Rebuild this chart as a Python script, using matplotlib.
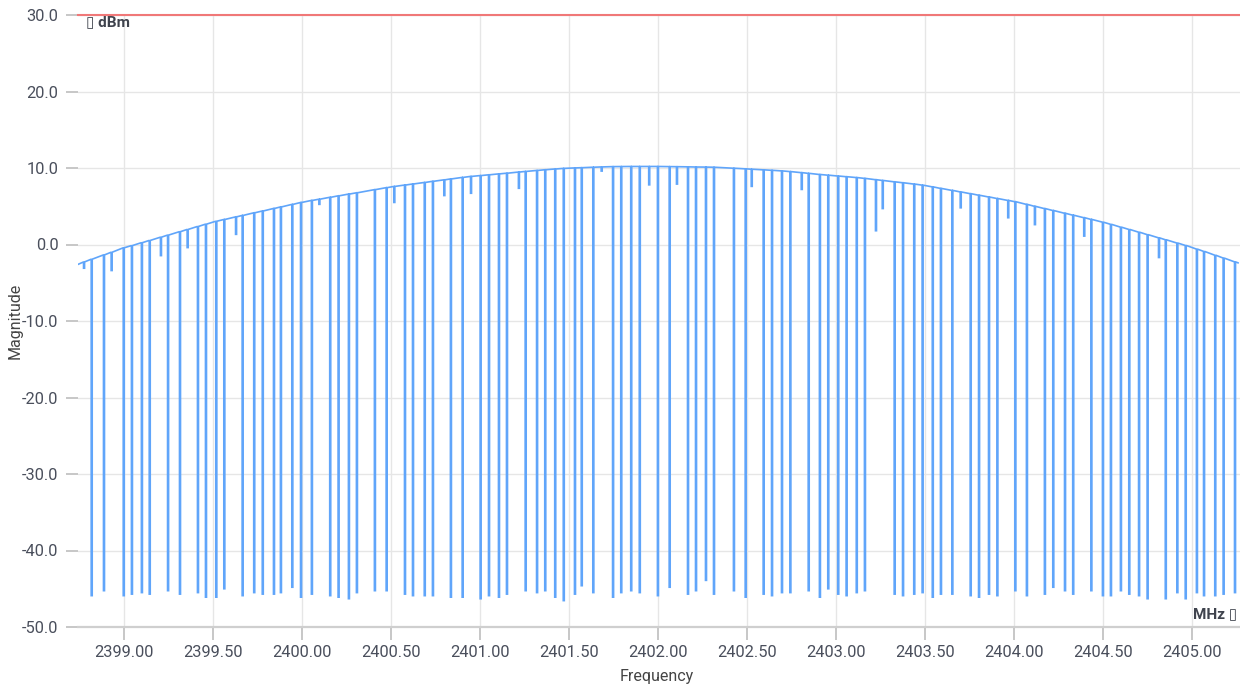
import matplotlib
matplotlib.use("Agg")
import matplotlib.pyplot as plt
from matplotlib.ticker import FixedLocator, FuncFormatter

plt.rcParams["font.family"] = ["Roboto", "DejaVu Sans"]

# Spectrum trace: level at the ends and, for every notch, its centre
# frequency (MHz), the carrier level just around it and the notch floor (dBm).
trace_start = (2398.740, -2.60)
trace_end = (2405.257, -2.40)

notch_freq = [
    2398.774, 2398.817, 2398.886, 2398.929, 2398.997, 2399.043, 2399.099, 2399.143,
    2399.206, 2399.246, 2399.313, 2399.356, 2399.414, 2399.459, 2399.517, 2399.562,
    2399.628, 2399.665, 2399.730, 2399.778, 2399.841, 2399.880, 2399.944, 2399.993,
    2400.054, 2400.096, 2400.157, 2400.204, 2400.262, 2400.307, 2400.408, 2400.474,
    2400.517, 2400.577, 2400.622, 2400.688, 2400.734, 2400.798, 2400.835, 2400.901,
    2400.948, 2401.002, 2401.049, 2401.105, 2401.150, 2401.217, 2401.255, 2401.319,
    2401.365, 2401.421, 2401.469, 2401.532, 2401.570, 2401.635, 2401.682, 2401.746,
    2401.792, 2401.848, 2401.896, 2401.949, 2401.998, 2402.064, 2402.105, 2402.167,
    2402.212, 2402.268, 2402.313, 2402.425, 2402.491, 2402.525, 2402.592, 2402.639,
    2402.695, 2402.742, 2402.806, 2402.845, 2402.908, 2402.955, 2403.011, 2403.058,
    2403.115, 2403.161, 2403.223, 2403.261, 2403.328, 2403.375, 2403.438, 2403.485,
    2403.542, 2403.588, 2403.652, 2403.699, 2403.755, 2403.802, 2403.858, 2403.905,
    2403.966, 2404.006, 2404.071, 2404.116, 2404.172, 2404.219, 2404.285, 2404.331,
    2404.393, 2404.433, 2404.498, 2404.543, 2404.599, 2404.646, 2404.701, 2404.749,
    2404.813, 2404.851, 2404.916, 2404.963, 2405.026, 2405.066, 2405.129, 2405.176,
    2405.240,
]

notch_top = [
    -2.28, -1.92, -1.36, -1.01, -0.43, -0.14, 0.24, 0.53,
    0.96, 1.23, 1.68, 1.97, 2.36, 2.66, 3.04, 3.27,
    3.61, 3.80, 4.14, 4.38, 4.71, 4.91, 5.24, 5.49,
    5.76, 5.92, 6.17, 6.36, 6.59, 6.76, 7.17, 7.43,
    7.59, 7.77, 7.91, 8.11, 8.26, 8.45, 8.57, 8.77,
    8.90, 9.01, 9.11, 9.23, 9.32, 9.47, 9.55, 9.68,
    9.77, 9.87, 9.95, 10.01, 10.04, 10.10, 10.14, 10.18,
    10.19, 10.20, 10.20, 10.20, 10.20, 10.18, 10.17, 10.15,
    10.13, 10.12, 10.10, 9.97, 9.89, 9.84, 9.76, 9.70,
    9.62, 9.53, 9.39, 9.30, 9.15, 9.06, 8.95, 8.86,
    8.75, 8.64, 8.47, 8.37, 8.19, 8.07, 7.90, 7.76,
    7.53, 7.33, 7.07, 6.87, 6.64, 6.44, 6.21, 6.01,
    5.76, 5.59, 5.24, 4.99, 4.69, 4.44, 4.08, 3.83,
    3.50, 3.28, 2.92, 2.64, 2.27, 1.97, 1.61, 1.29,
    0.87, 0.62, 0.19, -0.12, -0.60, -0.90, -1.40, -1.77,
    -2.27,
]

notch_floor = [
    -3.10, -45.90, -45.25, -3.40, -45.90, -45.70, -45.50, -45.70,
    -1.45, -45.25, -45.70, -0.40, -45.50, -46.10, -46.10, -45.00,
    1.33, -45.90, -45.50, -45.70, -45.70, -45.50, -44.80, -46.10,
    -45.70, 5.25, -45.90, -46.10, -46.30, -45.50, -45.25, -45.25,
    5.50, -45.70, -45.90, -45.90, -45.90, 6.40, -46.10, -46.10,
    6.70, -46.30, -45.90, -46.10, -45.70, 7.35, -45.25, -45.50,
    -45.25, -46.10, -46.55, -45.70, -44.60, -45.50, 9.60, -46.10,
    -45.50, -45.25, -45.50, 7.80, -45.90, -44.80, 7.90, -45.70,
    -45.25, -43.90, -45.70, -45.25, -46.10, 7.60, -45.70, -45.90,
    -45.50, -45.50, 7.20, -45.25, -46.10, -45.00, -45.70, -45.90,
    -45.50, -45.25, 1.80, 4.70, -45.70, -45.90, -45.70, -45.50,
    -46.10, -45.70, -45.70, 4.80, -45.90, -46.10, -45.70, -45.90,
    3.50, -45.25, -45.90, 2.60, -45.70, -44.80, -45.25, -45.70,
    1.10, -45.25, -45.90, -45.90, -45.25, -45.70, -45.90, -46.30,
    -1.70, -46.30, -45.50, -46.30, -45.50, -45.90, -45.90, -45.70,
    -45.50,
]

limit_level = 30.0
x_ticks = [2399.0 + 0.5 * i for i in range(13)]
y_ticks = [-50.0, -40.0, -30.0, -20.0, -10.0, 0.0, 10.0, 20.0, 30.0]

# Assemble the polyline: each notch is a narrow, flat-bottomed drop
# from the carrier level down to its floor and back.
half_width = 0.0028
xs = [trace_start[0]]
ys = [trace_start[1]]
for f, top, floor in zip(notch_freq, notch_top, notch_floor):
    xs += [f - half_width, f - half_width, f + half_width, f + half_width]
    ys += [top, floor, floor, top]
xs.append(trace_end[0])
ys.append(trace_end[1])

W, H = 1240, 688
fig = plt.figure(figsize=(W / 100, H / 100), dpi=100)
fig.patch.set_facecolor("white")
ax = fig.add_axes([78 / W, 61 / H, 1162 / W, 612 / H])

ax.plot(xs, ys, color="#60a5fa", lw=1.2, solid_joinstyle="miter", zorder=3)
ax.axhline(limit_level, color="#f07878", lw=1.5, zorder=4, clip_on=False)

ax.set_xlim(2398.740, 2405.268)
ax.set_ylim(-50, 30)

ax.xaxis.set_major_locator(FixedLocator(x_ticks))
ax.yaxis.set_major_locator(FixedLocator(y_ticks))
ax.xaxis.set_major_formatter(FuncFormatter(lambda v, p: f"{v:.2f}"))
ax.yaxis.set_major_formatter(FuncFormatter(lambda v, p: f"{v:.1f}"))

ax.grid(True, color="#e6e6e6", lw=1.0, zorder=0)
ax.set_axisbelow(True)

for side in ("left", "right", "top"):
    ax.spines[side].set_visible(False)
ax.spines["bottom"].set_color("#cfcfcf")
ax.spines["bottom"].set_linewidth(1.6)

label_color = "#4a4f5c"
ax.tick_params(axis="y", length=9, width=1.2, color="#bdbdbd", pad=5,
               labelsize=11.8, labelcolor=label_color)
ax.tick_params(axis="x", length=9, width=1.2, color="#bdbdbd", pad=4,
               labelsize=11.8, labelcolor=label_color)

ax.text((86 - 78) / 1162, 1 - (22 - 15) / 612, "\u25af dBm", transform=ax.transAxes,
        ha="left", va="center", fontsize=11, fontweight="bold", color="#3f434d",
        family=["Roboto", "DejaVu Sans"])
ax.text((1237 - 78) / 1162, (627 - 614) / 612, "MHz \u25af", transform=ax.transAxes,
        ha="right", va="center", fontsize=11, fontweight="bold", color="#3f434d",
        family=["Roboto", "DejaVu Sans"])

fig.text(15 / W, 1 - 321 / H, "Magnitude", rotation=90, ha="center", va="center",
         fontsize=11.5, color="#444444")
fig.text(657 / W, 1 - 677 / H, "Frequency", ha="center", va="center",
         fontsize=11.5, color="#444444")

fig.savefig("out.png", dpi=100, facecolor="white")
